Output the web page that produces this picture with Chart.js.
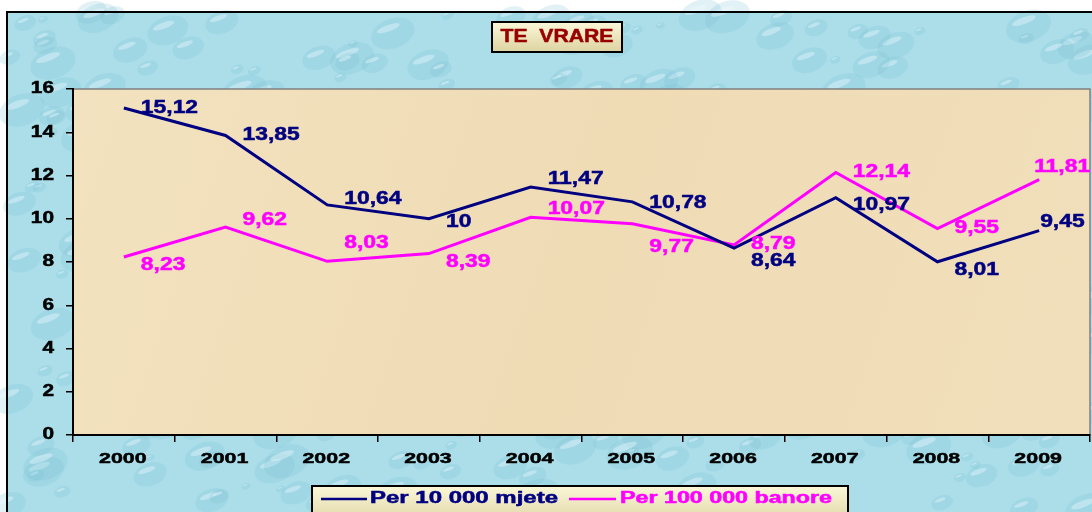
<!DOCTYPE html>
<html>
<head>
<meta charset="utf-8">
<script src="https://cdn.jsdelivr.net/npm/chart.js@4"></script>
<style>
  html, body { margin: 0; padding: 0; background: #fff; }
  #wrap { width: 1092px; height: 512px; position: relative; }
</style>
</head>
<body>
<div id="wrap"><canvas id="chart" width="1092" height="512"></canvas></div>
<script>
const years = ["2000", "2001", "2002", "2003", "2004", "2005", "2006", "2007", "2008", "2009"];
const perMjete = [15.12, 13.85, 10.64, 10, 11.47, 10.78, 8.64, 10.97, 8.01, 9.45];
const perBanore = [8.23, 9.62, 8.03, 8.39, 10.07, 9.77, 8.79, 12.14, 9.55, 11.81];
const yTicks = [0, 2, 4, 6, 8, 10, 12, 14, 16];
const seriesNames = ["Per 10 000 mjete", "Per 100 000 banore"];
const chartTitle = "TE  VRARE";

// label nudges (px) so the numbers sit like the original
const mjeteDy = [0, 0, -6, 3, -8, 1, 13, 7, 8, -9];
const banoreDy = [8, -7, -18, 8, -8, 23, -1, 0, 0, -13];
const navy = "#000080";
const pink = "#ff00ff";
const font = "'Liberation Sans', Arial, sans-serif";

function fmt(v) {
    return String(v).replace(".", ",");
}

// the original text is stretched wide, so draw it scaled by sx
function wideText(ctx, txt, x, y, align, size, sx) {
    ctx.save();
    ctx.font = "bold " + size + "px " + font;
    ctx.textBaseline = "middle";
    ctx.textAlign = "left";
    const w = ctx.measureText(txt).width * sx;
    let x0 = x;
    if (align === "center") x0 = x - w / 2;
    if (align === "right") x0 = x - w;
    ctx.translate(x0, y);
    ctx.scale(sx, 1);
    ctx.fillText(txt, 0, 0);
    ctx.strokeStyle = ctx.fillStyle;
    ctx.lineWidth = 0.5;
    ctx.strokeText(txt, 0, 0);
    ctx.restore();
}

// same, but stretched to fill a given width
function fitText(ctx, txt, x, y, size, width) {
    ctx.save();
    ctx.font = "bold " + size + "px " + font;
    const sx = width / ctx.measureText(txt).width;
    ctx.restore();
    wideText(ctx, txt, x, y, "left", size, sx);
}

// background: blue droplets + beige plot area
const backdrop = {
    id: "backdrop",
    beforeDraw(chart) {
        const ctx = chart.ctx;
        const a = chart.chartArea;
        ctx.save();
        ctx.fillStyle = "#acdeea";
        ctx.fillRect(7, 12, 1092, 512);
        let s = 11;
        for (let i = 0; i < 420; i++) {
            s = (s * 9301 + 49297) % 233280;
            const x = 7 + (s / 233280) * 1090;
            s = (s * 9301 + 49297) % 233280;
            const y = 12 + (s / 233280) * 500;
            s = (s * 9301 + 49297) % 233280;
            const r = 3 + (s / 233280) * 13;
            ctx.beginPath();
            ctx.ellipse(x, y, r * 1.5, r, -0.35, 0, Math.PI * 2);
            ctx.fillStyle = "rgba(120,190,210,0.22)";
            ctx.fill();
            ctx.beginPath();
            ctx.ellipse(x - r * 0.3, y - r * 0.35, r * 0.8, r * 0.22, -0.35, 0, Math.PI * 2);
            ctx.fillStyle = "rgba(235,250,255,0.4)";
            ctx.fill();
        }
        ctx.strokeStyle = "#000";
        ctx.lineWidth = 2;
        ctx.strokeRect(7, 12, 1100, 520);

        const g = ctx.createLinearGradient(a.left, a.top, a.right, a.bottom);
        g.addColorStop(0, "#f3e2bf");
        g.addColorStop(0.5, "#efdcb5");
        g.addColorStop(1, "#f1dfbb");
        ctx.fillStyle = g;
        ctx.fillRect(a.left, a.top, a.right - a.left, a.bottom - a.top);
        ctx.strokeStyle = "#808080";
        ctx.lineWidth = 1.5;
        ctx.strokeRect(a.left, a.top, a.right - a.left, a.bottom - a.top);
        ctx.restore();
    }
};

function paleBox(ctx, x, y, w, h) {
    const g = ctx.createLinearGradient(0, y, 0, y + h);
    g.addColorStop(0, "#fbf8d8");
    g.addColorStop(1, "#ddd3a2");
    ctx.fillStyle = g;
    ctx.fillRect(x, y, w, h);
    ctx.strokeStyle = "#000";
    ctx.lineWidth = 2;
    ctx.strokeRect(x, y, w, h);
}

const overlay = {
    id: "overlay",
    afterDatasetsDraw(chart) {
        const ctx = chart.ctx;
        const xs = chart.scales.x;
        const ys = chart.scales.y;
        const last = years.length - 1;
        ctx.save();

        // tick labels
        ctx.fillStyle = "#000";
        yTicks.forEach(v => wideText(ctx, String(v), 54, ys.getPixelForValue(v), "right", 16, 1.3));
        years.forEach((yr, i) => wideText(ctx, yr, xs.getPixelForValue(i) - 1, 459, "center", 15.5, 1.38));

        // data labels (the last column sits tight to the right edge)
        const sets = [[0, mjeteDy, navy], [1, banoreDy, pink]];
        sets.forEach(([idx, dys, col]) => {
            const meta = chart.getDatasetMeta(idx);
            meta.data.forEach((pt, i) => {
                ctx.fillStyle = col;
                const v = chart.data.datasets[idx].data[i];
                const dx = i === last ? (idx === 0 ? 1 : -5) : 17;
                wideText(ctx, fmt(v), pt.x + dx, pt.y + dys[i], "left", 18, 1.27);
            });
        });

        // title box
        paleBox(ctx, 492, 22, 130, 30);
        ctx.fillStyle = "#990000";
        wideText(ctx, chartTitle, 557, 37, "center", 17.5, 1.21);

        // legend box
        paleBox(ctx, 312, 486, 536, 40);
        ctx.lineWidth = 2.5;
        ctx.strokeStyle = navy;
        ctx.beginPath(); ctx.moveTo(321, 499); ctx.lineTo(367, 499); ctx.stroke();
        ctx.fillStyle = navy;
        fitText(ctx, seriesNames[0], 370, 499, 16, 188);
        ctx.strokeStyle = pink;
        ctx.beginPath(); ctx.moveTo(569, 499); ctx.lineTo(616, 499); ctx.stroke();
        ctx.fillStyle = pink;
        fitText(ctx, seriesNames[1], 620, 499, 16, 212);
        ctx.restore();
    }
};

new Chart(document.getElementById("chart"), {
    type: "line",
    data: {
        labels: years,
        datasets: [
            { label: seriesNames[0], data: perMjete, borderColor: navy, borderWidth: 3, pointRadius: 0, tension: 0, fill: false },
            { label: seriesNames[1], data: perBanore, borderColor: pink, borderWidth: 3, pointRadius: 0, tension: 0, fill: false }
        ]
    },
    options: {
        responsive: false,
        animation: false,
        layout: { padding: { left: 0, top: 89, right: 2, bottom: 0 } },
        plugins: { legend: { display: false }, title: { display: false }, tooltip: { enabled: false } },
        scales: {
            x: {
                offset: true,
                afterFit(s) { s.height = 77; },
                grid: { offset: true, drawOnChartArea: false, drawTicks: true, tickLength: 7, color: "#000", lineWidth: 1.5 },
                border: { display: true, color: "#000", width: 2 },
                ticks: { display: false }
            },
            y: {
                min: 0,
                max: 16,
                afterFit(s) { s.width = 73; },
                grid: { drawOnChartArea: false, drawTicks: true, tickLength: 7, color: "#000", lineWidth: 1.5 },
                border: { display: true, color: "#000", width: 2 },
                ticks: { display: false, stepSize: 2 }
            }
        }
    },
    plugins: [backdrop, overlay]
});
</script>
</body>
</html>
